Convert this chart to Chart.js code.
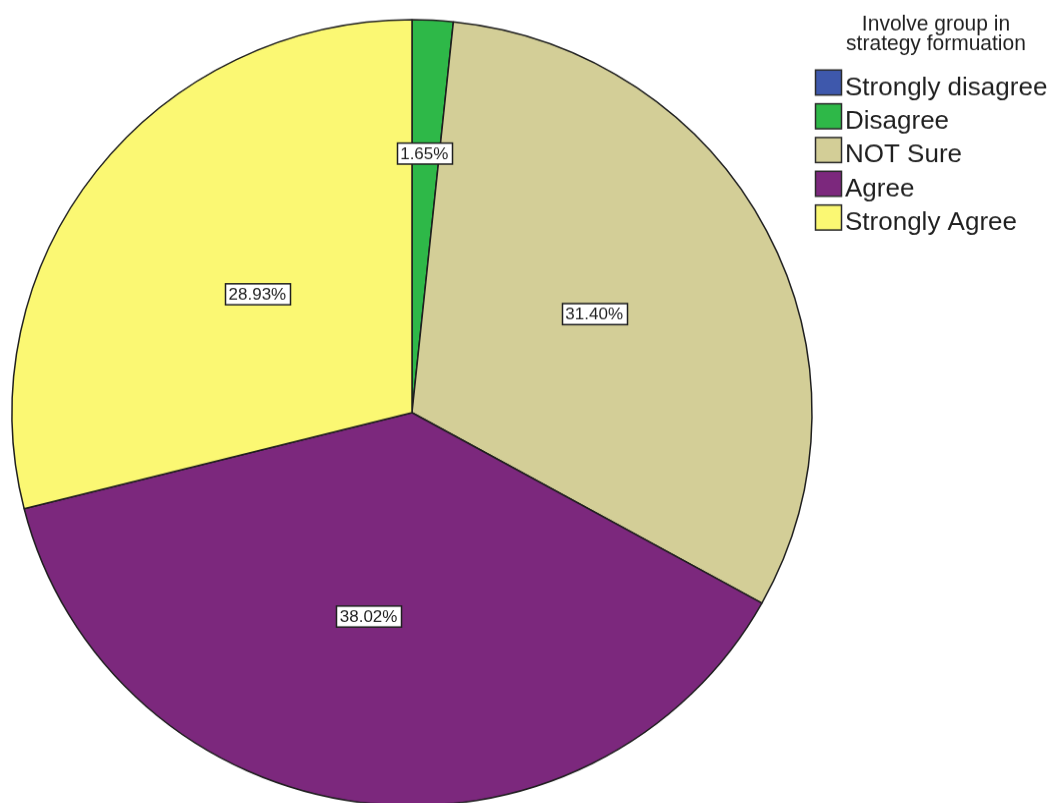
<!DOCTYPE html>
<html>
<head>
<meta charset="utf-8">
<script src="https://cdn.jsdelivr.net/npm/chart.js@4/dist/chart.umd.min.js"></script>
<style>
  html, body { margin: 0; padding: 0; background: #ffffff; overflow: hidden; width: 1060px; height: 803px; }
  /* the pie is drawn slightly flattened, like the exported SPSS graphic */
  canvas { display: block; position: absolute; left: 0; top: 0; transform-origin: 0 0; transform: scaleY(0.9825); }
</style>
</head>
<body>
<canvas id="pie" width="1060" height="840"></canvas>
<script>
// Survey responses: "Involve group in strategy formuation"
const categories = ['Strongly disagree', 'Disagree', 'NOT Sure', 'Agree', 'Strongly Agree'];
const percents = [0, 1.65, 31.40, 38.02, 28.93];
const legendTitle = ['Involve group in', 'strategy formuation'];
const sliceColors = ['#3E58AC', '#2EB848', '#D3CE97', '#7C287D', '#FBF873'];

// Where each value label sits: fraction of the radius along the slice bisector,
// plus a small turn (degrees) away from the bisector.
const labelDepth = [0.5, 0.66, 0.52, 0.53, 0.49];
const labelTurn = [0, -0.3, -1.3, 4.4, 0];

const SQUASH = 0.9825;   // vertical CSS scale applied to the canvas
const FONT = '"Liberation Sans", Arial, "DejaVu Sans", sans-serif';
const INK = '#1f1f1f';

// Boxed percentage labels drawn on the slices (text kept unsquashed)
const valueLabels = {
  id: 'valueLabels',
  afterDatasetsDraw(chart) {
    const ctx = chart.ctx;
    const meta = chart.getDatasetMeta(0);
    const values = chart.data.datasets[0].data;
    meta.data.forEach((arc, i) => {
      if (!values[i]) return;
      const p = arc.getProps(['x', 'y', 'startAngle', 'endAngle', 'outerRadius'], true);
      const mid = (p.startAngle + p.endAngle) / 2 + labelTurn[i] * Math.PI / 180;
      const r = p.outerRadius * labelDepth[i];
      const cx = p.x + Math.cos(mid) * r;
      const cy = p.y + Math.sin(mid) * r;
      ctx.save();
      ctx.translate(0, cy);
      ctx.scale(1, 1 / SQUASH);
      ctx.font = '17px ' + FONT;
      ctx.textAlign = 'center';
      ctx.textBaseline = 'middle';
      const text = values[i].toFixed(2) + '%';
      const w = Math.round(ctx.measureText(text).width + 7);
      const h = 21;
      const bx = Math.round(cx - w / 2) + 0.5;
      const by = -h / 2;
      ctx.fillStyle = '#ffffff';
      ctx.fillRect(bx, by, w, h);
      ctx.lineWidth = 1.5;
      ctx.strokeStyle = INK;
      ctx.strokeRect(bx, by, w, h);
      ctx.fillStyle = INK;
      ctx.fillText(text, cx, 1);
      ctx.restore();
    });
  }
};

// Legend block with its two-line title, at the upper right
const sideLegend = {
  id: 'sideLegend',
  afterDraw(chart) {
    const ctx = chart.ctx;
    const cols = chart.data.datasets[0].backgroundColor;
    ctx.save();
    ctx.scale(1, 1 / SQUASH);
    ctx.fillStyle = INK;
    ctx.textAlign = 'center';
    ctx.textBaseline = 'alphabetic';
    ctx.font = '21px ' + FONT;
    legendTitle.forEach((line, k) => ctx.fillText(line, 936, 30 + k * 20));

    ctx.textAlign = 'left';
    ctx.font = '26px ' + FONT;
    chart.data.labels.forEach((label, i) => {
      const top = 70 + i * 33.75;
      ctx.fillStyle = cols[i];
      ctx.fillRect(815.5, top, 26, 25);
      ctx.lineWidth = 1.5;
      ctx.strokeStyle = '#2a2a2a';
      ctx.strokeRect(815.5, top, 26, 25);
      ctx.fillStyle = INK;
      ctx.fillText(label, 845, top + 25);
    });
    ctx.restore();
  }
};

new Chart(document.getElementById('pie'), {
  type: 'pie',
  data: {
    labels: categories,
    datasets: [{
      data: percents,
      backgroundColor: sliceColors,
      borderColor: '#1e1e1e',
      borderWidth: 1.5,
      hoverOffset: 0
    }]
  },
  options: {
    responsive: false,
    devicePixelRatio: 1,
    animation: false,
    events: [],
    radius: 400,
    rotation: 0,
    layout: { padding: { left: 12, right: 248, top: 20, bottom: 20 } },
    plugins: {
      legend: { display: false },
      tooltip: { enabled: false },
      title: { display: false }
    }
  },
  plugins: [valueLabels, sideLegend]
});
</script>
</body>
</html>
